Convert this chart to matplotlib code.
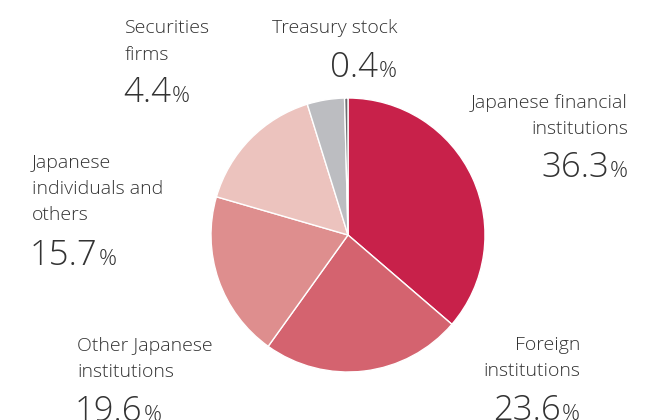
import matplotlib
matplotlib.use("Agg")
import matplotlib.pyplot as plt

categories = ["Japanese financial\ninstitutions", "Foreign\ninstitutions",
              "Other Japanese\ninstitutions", "Japanese\nindividuals and\nothers",
              "Securities\nfirms", "Treasury stock"]
values = [36.3, 23.6, 19.6, 15.7, 4.4, 0.4]
value_labels = ["36.3", "23.6", "19.6", "15.7", "4.4", "0.4"]
colors = ["#C8214A", "#D4636F", "#DE8E8E", "#ECC3BE", "#BCBDC1", "#6D6E71"]

W, H = 662, 420
fig = plt.figure(figsize=(W / 100, H / 100), dpi=100)
ax = fig.add_axes([0, 0, 1, 1])

cx, cy, r = 348, H - 235, 137
ax.pie(values, colors=colors, startangle=90, counterclock=False,
       center=(cx, cy), radius=r, frame=True,
       wedgeprops=dict(edgecolor="white", linewidth=1.0))
ax.set_xlim(0, W)
ax.set_ylim(0, H)
ax.set_aspect("equal")
ax.axis("off")

FONT = "Open Sans"
TXT = "#333333"
LS = 14
NS = 25
PS = 16
WT = "light"

# (x, ha, label baselines (px from top), number baseline)
layout = [
    (628, "right", [108, 134], 177),
    (580, "right", [350, 376], 420),
    (77, "left", [351, 377], 421),
    (32, "left", [168, 194, 220], 265),
    (125, "left", [33, 60], 102),
    (397, "right", [33], 77),
]

fig.canvas.draw()
renderer = fig.canvas.get_renderer()
inv = ax.transData.inverted()

for cat, num, (x, ha, lys, ny) in zip(categories, value_labels, layout):
    for line, ly in zip(cat.split("\n"), lys):
        ax.text(x, H - ly, line, ha=ha, va="baseline", fontsize=LS,
                family=FONT, color=TXT, fontweight=WT)
    if ha == "left":
        t = ax.text(x - 2, H - ny, num, ha="left", va="baseline", fontsize=NS,
                    family=FONT, color=TXT, fontweight=WT)
        bb = t.get_window_extent(renderer)
        x1 = inv.transform((bb.x1, bb.y0))[0]
        ax.text(x1 + 1, H - ny, "%", ha="left", va="baseline", fontsize=PS,
                family=FONT, color=TXT, fontweight=WT)
    else:
        p = ax.text(x, H - ny, "%", ha="right", va="baseline", fontsize=PS,
                    family=FONT, color=TXT, fontweight=WT)
        bb = p.get_window_extent(renderer)
        x0 = inv.transform((bb.x0, bb.y0))[0]
        ax.text(x0 - 1, H - ny, num, ha="right", va="baseline", fontsize=NS,
                family=FONT, color=TXT, fontweight=WT)

fig.savefig("out.png", dpi=100)
